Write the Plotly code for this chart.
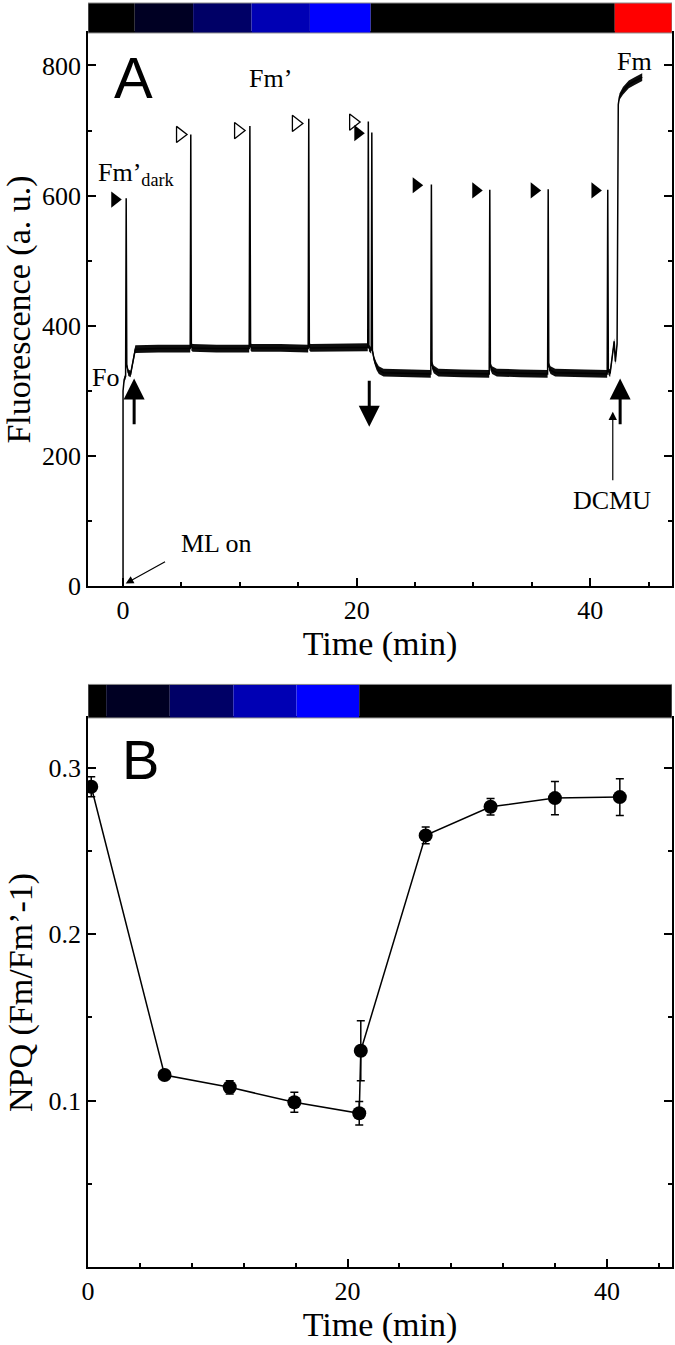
import plotly.graph_objects as go

# ---------------- Panel A: fluorescence trace ----------------
trace_t = [0, 0, 0.1, 0.22, 0.27, 0.32, 0.45, 0.65, 0.85, 1.05,
           3.0, 5.75, 5.8, 5.85, 5.95,
           8.0, 10.8, 10.86, 10.92, 11.0,
           13.5, 15.85, 15.9, 15.95, 16.05,
           18.5, 20.95, 21.0, 21.05, 21.25, 21.3, 21.35, 21.5, 21.7, 21.9, 22.3,
           24.5, 26.35, 26.4, 26.45, 26.6, 27.0,
           29.0, 31.35, 31.4, 31.45, 31.6, 32.0,
           34.0, 36.35, 36.4, 36.45, 36.6, 37.0,
           39.5, 41.45, 41.5, 41.55, 41.7, 41.95, 42.05, 42.15, 42.3, 42.4,
           42.5, 42.8, 43.3, 43.8, 44.45]
trace_f = [0, 300, 318, 322, 596, 340, 328, 326, 345, 364,
           365, 365, 694, 368, 366,
           365, 365, 707, 368, 366,
           366, 365, 718, 368, 366,
           367, 367, 714, 366, 362, 697, 362, 348, 338, 332, 328,
           327, 326, 617, 340, 333, 328,
           327, 326, 609, 338, 332, 328,
           327, 326, 610, 338, 332, 328,
           327, 326, 609, 330, 327, 362, 376, 345, 372, 740,
           752, 761, 771, 776, 782]
# half-width of the noise band around the trace
trace_noise = [0, 0, 4, 4, 0, 3, 5, 5, 5, 6,
               6, 6, 0, 6, 6,
               6, 6, 0, 6, 6,
               6, 6, 0, 6, 6,
               6, 6, 0, 5, 5, 0, 5, 5, 6, 6, 6,
               6, 6, 0, 6, 6, 6,
               6, 6, 0, 6, 6, 6,
               6, 6, 0, 6, 6, 6,
               6, 6, 0, 5, 6, 5, 5, 5, 4, 0,
               5, 6, 6, 6, 6]

open_tri_t = [4.88, 9.85, 14.8, 19.7]
open_tri_f = [694, 700, 711, 713]
fill_tri_t = [-0.71, 20.1, 25.1, 30.2, 35.2, 40.4]
fill_tri_f = [594, 696, 616, 608, 608, 608]

# light regime bar (time edges and colours)
barA_edges = [-3, 1, 6, 11, 16, 21.2, 42.1, 47]
barA_colors = ["#000000", "#000023", "#000066", "#0000b4", "#0000ff", "#000000", "#ff0000"]
barB_edges = [0, 1.4, 6.3, 11.2, 16.07, 20.9, 45]
barB_colors = ["#000000", "#000023", "#000066", "#0000b4", "#0000ff", "#000000"]

# ---------------- Panel B: NPQ ----------------
npq_t = [0.25, 5.9, 10.92, 15.9, 20.9, 21.02, 26.02, 31.02, 35.98, 40.98]
npq_v = [0.2886, 0.1154, 0.108, 0.099, 0.0924, 0.130, 0.2594, 0.2766, 0.2818, 0.2824]
npq_err = [0.006, 0.002, 0.004, 0.006, 0.007, 0.018, 0.005, 0.005, 0.010, 0.011]

xA_ticks = [0, 20, 40]
xA_minor = [5, 10, 15, 25, 30, 35, 45]
yA_ticks = [0, 200, 400, 600, 800]
yA_minor = [100, 300, 500, 700]
xB_ticks = [0, 20, 40]
xB_minor = [4, 8, 12, 16, 24, 28, 32, 36, 44]
yB_ticks = [0.1, 0.2, 0.3]
yB_minor = [0.05, 0.15, 0.25]

SERIF = "Liberation Serif"
SANS = "Liberation Sans"

fig = go.Figure()

upper = [f + n for f, n in zip(trace_f, trace_noise)]
lower = [f - n for f, n in zip(trace_f, trace_noise)]
fig.add_trace(go.Scatter(x=trace_t, y=lower, mode="lines", line=dict(width=0, color="black"),
                         showlegend=False, hoverinfo="skip", xaxis="x", yaxis="y"))
fig.add_trace(go.Scatter(x=trace_t, y=upper, mode="lines", line=dict(width=0, color="black"),
                         fill="tonexty", fillcolor="rgba(0,0,0,0.95)",
                         showlegend=False, hoverinfo="skip", xaxis="x", yaxis="y"))
fig.add_trace(go.Scatter(x=trace_t, y=trace_f, mode="lines", line=dict(width=1.5, color="black"),
                         showlegend=False, xaxis="x", yaxis="y"))
fig.add_trace(go.Scatter(x=open_tri_t, y=open_tri_f, mode="markers",
                         marker=dict(symbol="triangle-right-open", size=14, color="black",
                                     line=dict(width=1.3, color="black")),
                         showlegend=False, xaxis="x", yaxis="y"))
fig.add_trace(go.Scatter(x=fill_tri_t, y=fill_tri_f, mode="markers",
                         marker=dict(symbol="triangle-right", size=14, color="black"),
                         showlegend=False, xaxis="x", yaxis="y"))

fig.add_trace(go.Scatter(x=npq_t, y=npq_v, mode="lines+markers",
                         line=dict(color="black", width=1.5),
                         marker=dict(size=14, color="black"),
                         error_y=dict(type="data", array=npq_err, visible=True,
                                      color="black", thickness=1.5, width=4),
                         showlegend=False, xaxis="x2", yaxis="y2"))

# colour bars
shapes = []
for i, c in enumerate(barA_colors):
    shapes.append(dict(type="rect", xref="x", yref="paper", x0=barA_edges[i], x1=barA_edges[i + 1],
                       y0=0.9763, y1=1.0, fillcolor=c, line=dict(width=0), layer="above"))
shapes.append(dict(type="rect", xref="x", yref="paper", x0=barA_edges[0], x1=barA_edges[-1],
                   y0=0.9763, y1=1.0, fillcolor="rgba(0,0,0,0)", line=dict(width=1, color="#888")))
for i, c in enumerate(barB_colors):
    shapes.append(dict(type="rect", xref="x2", yref="paper", x0=barB_edges[i], x1=barB_edges[i + 1],
                       y0=0.4344, y1=0.4609, fillcolor=c, line=dict(width=0), layer="above"))
shapes.append(dict(type="rect", xref="x2", yref="paper", x0=barB_edges[0], x1=barB_edges[-1],
                   y0=0.4344, y1=0.4609, fillcolor="rgba(0,0,0,0)", line=dict(width=1, color="#888")))


def axis(rng, ticks, minor, title, mirror, standoff, **kw):
    d = dict(range=rng, tickmode="array", tickvals=ticks, ticktext=[str(v) for v in ticks],
             showline=True, linecolor="black", linewidth=1.5, mirror=mirror,
             ticks="inside", ticklen=8, tickwidth=1.5, tickcolor="black",
             tickfont=dict(family=SERIF, size=26, color="black"),
             showgrid=False, zeroline=False, automargin=False,
             minor=dict(tickmode="array", tickvals=minor, ticks="inside", ticklen=4,
                        tickwidth=1.5, tickcolor="black", showgrid=False),
             title=dict(text=title, font=dict(family=SERIF, size=34, color="black"),
                        standoff=standoff))
    d.update(kw)
    return d


ann = []


def txt(x, y, s, xr="x", yr="y", size=26, fam=SERIF, **kw):
    a = dict(x=x, y=y, xref=xr, yref=yr, text=s, showarrow=False,
             font=dict(family=fam, size=size, color="black"))
    a.update(kw)
    ann.append(a)


def arr(x, y, ax, ay, w, size, xr="x", yr="y"):
    ann.append(dict(x=x, y=y, ax=ax, ay=ay, xref=xr, yref=yr, axref=xr, ayref=yr, text=" ",
                    showarrow=True, arrowhead=2, arrowwidth=w, arrowsize=size, arrowcolor="black",
                    standoff=0, startstandoff=0, font=dict(size=2)))


txt(0.86, 781, "A", size=58, fam=SANS)
txt(12.6, 780, "Fm’")
txt(43.8, 806, "Fm")
txt(-2.35, 633, "Fm’<sub>dark</sub>", xanchor="left")
txt(-1.5, 320, "Fo")
txt(41.9, 132, "DCMU")
txt(7.97, 66, "ML on")
arr(0.95, 319, 0.95, 244, 3, 1.4)
arr(21.08, 245, 21.08, 320, 3, 1.4)
arr(42.56, 319, 42.56, 244, 3, 1.4)
arr(41.93, 268, 41.93, 158, 1.2, 1.4)
arr(0.23, 4, 3.77, 39, 1.2, 1.3)
txt(4.08, 0.3052, "B", xr="x2", yr="y2", size=56, fam=SANS)

fig.update_layout(
    width=675, height=1345,
    margin=dict(l=88, r=3, t=3, b=78),
    paper_bgcolor="white", plot_bgcolor="white",
    showlegend=False,
    xaxis=axis([-3, 47], xA_ticks, xA_minor, "Time (min)", True, 4, anchor="y", domain=[0, 1]),
    yaxis=axis([0, 850], yA_ticks, yA_minor, "Fluorescence (a. u.)", "ticks", 6, anchor="x",
               domain=[0.5387, 0.9763]),
    xaxis2=axis([0, 45], xB_ticks, xB_minor, "Time (min)", True, 4, anchor="y2", domain=[0, 1]),
    yaxis2=axis([0, 0.33], yB_ticks, yB_minor, "NPQ (Fm/Fm’-1)", "ticks", 6, anchor="x2",
                domain=[0, 0.4344]),
    shapes=shapes,
    annotations=ann,
)

fig.write_html("out.html", config={"displayModeBar": False},
               post_script="document.body.style.margin='0';document.body.style.overflow='hidden';")
